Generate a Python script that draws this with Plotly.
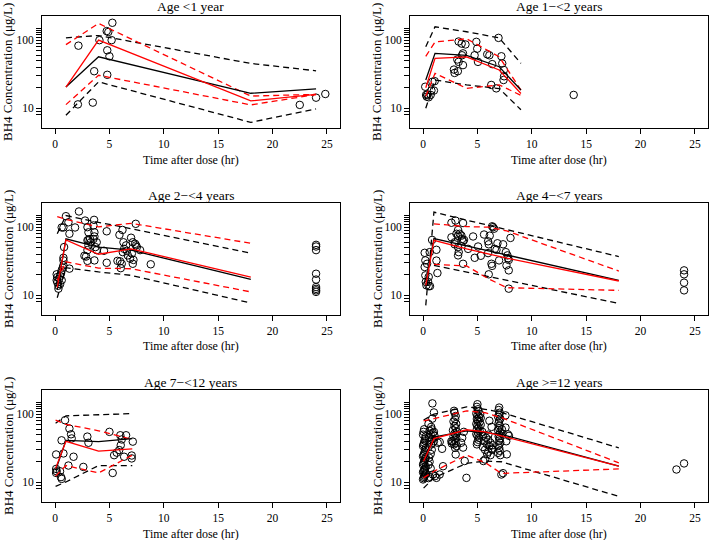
import plotly.graph_objects as go

FONT = "Liberation Serif"

TITLES = ["Age <1 year", "Age 1\u2212<2 years", "Age 2\u2212<4 years",
          "Age 4\u2212<7 years", "Age 7\u2212<12 years", "Age >=12 years"]
X_TITLE = "Time after dose (hr)"
Y_TITLE = "BH4 Concentration (\u03bcg/L)"
X_TICKS = [0, 5, 10, 15, 20, 25]
Y_TICKS = [10, 100]
Y_MINOR = [8, 9, 20, 30, 40, 50, 60, 70, 80, 90, 110, 120, 130, 140, 150]

# ---------------- Panel 1: Age <1 year ----------------
P1_OBS_T = [2.15, 4.08, 4.75, 4.9, 5.27, 5.2, 4.8, 5.0, 3.6, 4.8, 3.47, 2.1, 22.5, 24.0, 24.85]
P1_OBS_C = [83, 100, 136, 132, 180, 100, 71, 58, 35, 31, 12.1, 11.4, 11.2, 14.3, 16.2]
P1_T = [1, 4, 18, 24]
P1_OBS_P50 = [20.5, 57, 16.6, 19.2]
P1_OBS_P95 = [108, 117, 45.5, 35.5]
P1_OBS_P05 = [7.9, 24.4, 6.2, 9.8]
P1_SIM_P50 = [20.5, 100, 12.8, 16.0]
P1_SIM_P95 = [86, 176, 15.1, 16.0]
P1_SIM_P05 = [11.3, 30.5, 11.2, 15.9]

# ---------------- Panel 2: Age 1-<2 years ----------------
P2_OBS_T = [0.2, 0.28, 0.34, 0.4, 0.52, 0.7, 0.77, 0.86, 1.0, 1.07, 3.27, 3.55, 3.9, 3.58, 3.67,
            3.15, 3.27, 3.67, 2.84, 2.9, 3.2, 4.9, 4.98, 4.74, 5.05, 5.9, 6.1, 6.36, 6.94, 7.2,
            7.28, 7.43, 7.4, 7.45, 6.27, 6.73, 13.85]
P2_OBS_C = [20.7, 15.7, 14.8, 16, 14.5, 15.7, 18.2, 24.5, 18.2, 25, 95.6, 89, 86.5, 60, 64,
            52, 48, 43, 37, 33, 35, 94.5, 75, 60, 48, 62, 60, 44.5, 108, 58,
            45.5, 36.5, 26, 29.5, 22, 19.6, 15.7]
P2_T = [0.25, 1.1, 4, 7, 9]
P2_OBS_P50 = [26, 64, 60, 40.7, 18.5]
P2_OBS_P95 = [80, 157, 133, 108, 45.6]
P2_OBS_P05 = [10, 26, 22, 19.5, 9.5]
P2_SIM_P50 = [20, 54, 57, 36.5, 16.5]
P2_SIM_P95 = [58, 94, 105, 57, 18.5]
P2_SIM_P05 = [15, 32.6, 19.6, 22, 15.5]

# ---------------- Panel 3: Age 2-<4 years ----------------
P3_OBS_T = [0.21, 0.15, 0.21, 0.31, 0.31, 0.15, 0.37, 0.46, 0.55, 0.61, 0.71, 0.77, 0.61, 0.46,
            0.77, 0.77, 0.61, 0.77, 0.83, 1.0, 1.23, 1.32, 1.84, 2.2, 1.32, 2.76, 3.59, 2.98,
            3.53, 3.62, 3.07, 3.07, 3.22, 2.98, 3.28, 3.53, 3.62, 3.83, 3.71, 2.85, 2.98, 3.62,
            2.98, 3.83, 3.07, 4.75, 4.5, 4.75, 5.92, 6.2, 6.29, 6.35, 6.23, 5.74, 5.98, 6.04,
            6.13, 6.53, 6.6, 6.69, 6.9, 6.99, 7.15, 7.15, 7.21, 7.36, 7.45, 7.52, 7.42, 7.82,
            8.8, 7.06, 2.7,
            24, 24, 24, 24, 24, 24, 24, 24, 24]
P3_OBS_C = [18.5, 16.6, 15.5, 13.8, 12.5, 20.3, 17.5, 19.2, 21.2, 23.2, 25.4, 27.5, 16.6, 14.5,
            35.5, 32.5, 99, 99, 51, 145, 118, 80, 99, 170, 24.6, 125, 128, 100,
            106, 84, 84, 65, 67, 64, 60, 67, 73, 60, 51, 37, 32, 32.5,
            46, 46, 54, 87, 45, 30, 77, 91, 60, 48, 43, 32, 31.5, 25,
            29, 54, 45, 38.5, 34.5, 70, 60, 29, 33, 57, 54, 51, 112, 46,
            28.5, 41, 38,
            55, 52, 46, 20.7, 17, 13.2, 12.4, 11.8, 11.2]
P3_T = [0.2, 1, 4, 7, 18]
P3_OBS_P50 = [12, 67.6, 51, 46, 17.1]
P3_OBS_P95 = [80, 148, 118, 95, 41.6]
P3_OBS_P05 = [9.2, 25.4, 22, 19.6, 7.7]
P3_SIM_P50 = [13, 65, 40, 48, 18.5]
P3_SIM_P95 = [143, 130, 101, 114, 58]
P3_SIM_P05 = [16.6, 31, 25, 24.5, 11.2]

# ---------------- Panel 4: Age 4-<7 years ----------------
P4_OBS_T = [0.15, 0.21, 0.15, 0.21, 0.25, 0.31, 0.46, 0.52, 0.64, 0.61, 0.37, 0.52, 0.83, 1.23,
            1.23, 1.32, 2.61, 2.98, 2.61, 3.07, 3.22, 3.22, 3.37, 3.53, 3.68, 3.59, 3.68, 3.77,
            2.91, 2.91, 3.22, 3.28, 3.22, 3.68, 4.14, 4.6, 4.75, 5.06, 5.31, 5.61, 5.98, 6.04,
            5.98, 6.04, 6.13, 6.35, 6.44, 6.53, 6.29, 6.35, 6.6, 6.75, 6.84, 6.99, 7.36, 7.61,
            7.76, 7.67, 7.82, 7.88, 7.88, 7.88, 8.04,
            24, 24, 24, 24]
P4_OBS_C = [42, 32.5, 26, 19.6, 15.7, 14, 15.7, 13.6, 13.6, 43, 29, 18.6, 65, 46.5,
            32.3, 21.2, 116, 125, 71, 80, 91, 75, 80, 75, 115, 67, 62, 65,
            56, 60, 51, 43, 38.5, 29, 48, 73, 35.5, 52, 38, 78, 62, 56,
            41.6, 20.3, 75, 103, 100, 95, 29, 27, 48, 46.5, 58, 32.5, 56, 43,
            38.5, 27.5, 35, 23.2, 33, 12.5, 69.5,
            23.2, 20.3, 15.3, 11.8]
P4_T = [0.25, 1, 4, 6, 7.7, 18]
P4_OBS_P50 = [15.7, 68, 53, 45, 39, 16.6]
P4_OBS_P95 = [7.1, 166, 127, 107, 92, 37]
P4_OBS_P05 = [None, 27.5, 21.9, 19, 16.6, 7.6]
P4_SIM_P50 = [14, 64, 48, 41, 35, 16.2]
P4_SIM_P95 = [None, 112, 102, 100, 88, 22.7]
P4_SIM_P05 = [None, 28.4, 27, 17.5, 12.9, 11.8]

# ---------------- Panel 5: Age 7-<12 years ----------------
P5_OBS_T = [0.1, 0.1, 0.15, 0.1, 0.46, 0.55, 0.61, 0.6, 0.77, 0.92, 1.23, 1.32, 1.47, 1.53,
            1.7, 2.6, 2.97, 3.07, 5.0, 5.3, 5.43, 5.67, 5.9, 6.04, 6.0, 6.13, 6.35, 6.53,
            7.05, 7.05, 7.15]
P5_OBS_C = [25.6, 15.7, 14.5, 13.7, 14.5, 11.9, 11.2, 41.3, 26.5, 81.5, 17.6, 61.4, 50.6, 44,
            23.7, 16.8, 46.8, 38, 55, 13.7, 25, 27.2, 29.7, 35, 49, 42.5, 23.7, 49,
            24.7, 22.4, 39.5]
P5_T = [0.05, 1, 4, 7.1]
P5_OBS_P50 = [15, 41.3, 39.5, 43.6]
P5_OBS_P95 = [73.6, 94.5, 98, 102]
P5_OBS_P05 = [8.7, 10.1, 17.6, 17.6]
P5_SIM_P50 = [16, 40, 28.7, 31]
P5_SIM_P95 = [81.5, 71, 57, 42.5]
P5_SIM_P05 = [12.3, 17.6, 13.7, 25]

# ---------------- Panel 6: Age >=12 years ----------------
P6_OBS_T = [0.0, 0.05, 0.1, 0.15, 0.2, 0.25, 0.0, 0.05, 0.1, 0.15, 0.2, 0.25, 0.0, 0.05, 0.1,
            0.15, 0.2, 0.25, 0.0, 0.05, 0.1, 0.15, 0.2, 0.25, 0.0, 0.05, 0.1, 0.15, 0.2, 0.25,
            0.0, 0.05, 0.1,
            0.5, 0.6, 0.9, 0.7, 0.5, 0.6, 0.55, 0.7, 0.8, 0.5, 0.75, 0.6, 0.85, 0.55, 0.7, 0.9,
            0.6, 0.8, 0.75, 0.5, 0.85, 1.0, 0.86, 1.0, 1.05, 1.0,
            1.53, 1.75, 1.84, 1.23, 1.53, 1.35, 1.1,
            2.85, 2.9, 3.0, 2.95, 2.8, 3.05, 2.9, 3.0, 2.75, 3.1, 2.9, 3.0, 2.8, 3.05, 2.9,
            2.7, 3.0, 2.85, 3.1, 2.95, 3.0, 2.6, 2.65,
            3.68, 3.83, 3.99, 3.6, 3.5, 3.75,
            5.0, 4.95, 5.05, 5.1, 4.9, 5.0, 5.15, 4.95, 5.05, 5.2, 4.9, 5.0, 5.1, 4.95, 5.2,
            5.05, 4.9, 5.0, 5.15, 5.1, 5.0, 4.95, 5.25, 5.3, 5.3,
            5.5, 5.8, 6.0, 5.6, 6.2, 5.9, 6.1, 5.5, 6.3, 5.7, 6.0, 5.9, 6.2, 5.7, 5.55, 6.1,
            6.3, 5.45, 6.4, 6.35, 6.0,
            7.0, 6.95, 7.05, 7.0, 6.9, 7.1, 7.0, 6.95, 7.05, 7.0, 6.9, 7.1, 7.0, 6.95, 7.05,
            7.0, 7.1, 6.95, 7.0, 7.05, 6.9, 7.1, 7.2, 7.35, 7.25, 7.3,
            7.58, 7.65, 7.7, 7.8, 7.58, 7.9,
            23.3, 24.0]
P6_OBS_C = [11, 11.5, 12, 12.5, 13, 13.5, 14, 14.5, 15, 15.5, 16, 17, 18, 19, 20,
            21, 22, 23, 24, 25, 26, 28, 30, 32, 34, 36, 38, 41, 44, 47,
            50, 55, 60,
            11.5, 12, 13, 16, 18, 20, 23, 26, 30, 33, 36, 40, 43, 46, 50, 53,
            57, 60, 65, 72, 86, 106, 144, 55, 48, 40,
            39, 31, 17.2, 11.6, 13, 38, 12.3,
            112, 105, 94, 84, 78, 72, 67, 62, 58, 55, 52, 50, 47, 45, 42,
            40, 38, 36, 34, 32, 25.6, 40, 37,
            32.3, 20.5, 11.6, 45, 38, 55,
            140, 128, 118, 110, 102, 96, 90, 85, 80, 76, 72, 68, 64, 60, 57,
            54, 51, 48, 45, 42, 39, 36, 100, 88, 70,
            48, 45, 42, 40, 38, 36, 34, 33, 31, 30, 28, 26, 25, 21.6, 20.5, 80,
            65, 55, 35, 30, 50,
            125, 115, 105, 98, 92, 86, 80, 74, 68, 62, 58, 54, 50, 47, 44,
            41, 38, 35, 32, 29, 27, 25, 13, 13.6, 60, 52,
            63.5, 40, 25.7, 50.6, 96, 48,
            15.4, 18.9]
P6_T = [0.05, 1, 4, 5.7, 7.2, 18]
P6_OBS_P50 = [20.4, 46, 57, 54, 50.5, 17.2]
P6_OBS_P95 = [82, 100, 128, 118, 106, 32]
P6_OBS_P05 = [8.2, 11.6, 19, 20.4, 20, 6.2]
P6_SIM_P50 = [20.4, 43.7, 59, 55, 48, 17.2]
P6_SIM_P95 = [80, 86, 112, 105, 89, 19.3]
P6_SIM_P05 = [11.6, 14.5, 25, 19.5, 13.5, 15.7]

PANELS = [
    (P1_OBS_T, P1_OBS_C, P1_T, P1_OBS_P50, P1_OBS_P95, P1_OBS_P05, P1_SIM_P50, P1_SIM_P95, P1_SIM_P05),
    (P2_OBS_T, P2_OBS_C, P2_T, P2_OBS_P50, P2_OBS_P95, P2_OBS_P05, P2_SIM_P50, P2_SIM_P95, P2_SIM_P05),
    (P3_OBS_T, P3_OBS_C, P3_T, P3_OBS_P50, P3_OBS_P95, P3_OBS_P05, P3_SIM_P50, P3_SIM_P95, P3_SIM_P05),
    (P4_OBS_T, P4_OBS_C, P4_T, P4_OBS_P50, P4_OBS_P95, P4_OBS_P05, P4_SIM_P50, P4_SIM_P95, P4_SIM_P05),
    (P5_OBS_T, P5_OBS_C, P5_T, P5_OBS_P50, P5_OBS_P95, P5_OBS_P05, P5_SIM_P50, P5_SIM_P95, P5_SIM_P05),
    (P6_OBS_T, P6_OBS_C, P6_T, P6_OBS_P50, P6_OBS_P95, P6_OBS_P05, P6_SIM_P50, P6_SIM_P95, P6_SIM_P05),
]

W, H = 710, 540
COL_PX = [(42, 340), (410, 708)]
ROW_PX = [(16, 128), (203, 315), (390, 502)]
TITLE_Y = [7, 195, 382]
XLAB_Y = [160, 346, 534]
YLAB_X = [8, 377]

DASH = "6px,4px"
RED = "#FF0000"

fig = go.Figure()
layout = dict(
    width=W, height=H, autosize=False,
    margin=dict(l=0, r=0, t=0, b=0),
    paper_bgcolor="white", plot_bgcolor="white",
    showlegend=False,
    font=dict(family=FONT, size=11, color="black"),
)
annotations = []

for i, (ot, oc, lt, op50, op95, op05, sp50, sp95, sp05) in enumerate(PANELS):
    r, c = divmod(i, 2)
    n = "" if i == 0 else str(i + 1)
    xa, ya = "x" + n, "y" + n
    x0, x1 = COL_PX[c]
    y0, y1 = ROW_PX[r]

    fig.add_trace(go.Scatter(x=ot, y=oc, mode="markers", xaxis=xa, yaxis=ya,
                             marker=dict(symbol="circle-open", size=7.5, color="black",
                                         line=dict(width=1, color="black")),
                             hoverinfo="skip"))
    for vals, col, dash in [(op95, "black", DASH), (op05, "black", DASH),
                            (sp95, RED, DASH), (sp05, RED, DASH),
                            (op50, "black", "solid"), (sp50, RED, "solid")]:
        fig.add_trace(go.Scatter(x=lt, y=vals, mode="lines", xaxis=xa, yaxis=ya,
                                 line=dict(color=col, width=1.3, dash=dash),
                                 hoverinfo="skip"))

    layout["xaxis" + n] = dict(
        domain=[x0 / W, x1 / W], anchor=ya, range=[-1.2, 26.2],
        tickvals=X_TICKS, ticks="outside", ticklen=5, tickwidth=1, tickcolor="black",
        showline=True, linecolor="black", linewidth=1, mirror=True,
        showgrid=False, zeroline=False,
        tickfont=dict(family=FONT, size=11.5, color="black"),
    )
    layout["yaxis" + n] = dict(
        domain=[1 - y1 / H, 1 - y0 / H], anchor=xa, type="log", range=[0.71, 2.355],
        tickvals=Y_TICKS, ticktext=[str(v) for v in Y_TICKS],
        ticks="outside", ticklen=5, tickwidth=1, tickcolor="black",
        minor=dict(tickvals=Y_MINOR, ticks="outside", ticklen=5, tickwidth=1,
                   tickcolor="black", showgrid=False),
        showline=True, linecolor="black", linewidth=1, mirror=True,
        showgrid=False, zeroline=False,
        tickfont=dict(family=FONT, size=11.5, color="black"),
    )
    xc = (x0 + x1) / 2 / W
    annotations.append(dict(text=TITLES[i], x=xc, y=1 - TITLE_Y[r] / H, xref="paper", yref="paper",
                            showarrow=False, xanchor="center", yanchor="middle",
                            font=dict(family=FONT, size=13.5, color="black")))
    annotations.append(dict(text=X_TITLE, x=xc, y=1 - XLAB_Y[r] / H, xref="paper", yref="paper",
                            showarrow=False, xanchor="center", yanchor="middle",
                            font=dict(family=FONT, size=12, color="black")))
    annotations.append(dict(text=Y_TITLE, x=YLAB_X[c] / W, y=1 - (y0 + y1) / 2 / H,
                            xref="paper", yref="paper", textangle=-90,
                            showarrow=False, xanchor="center", yanchor="middle",
                            font=dict(family=FONT, size=13, color="black")))

layout["annotations"] = annotations
fig.update_layout(**layout)
fig.write_html("out.html", config={"displayModeBar": False},
               post_script="document.body.style.margin='0';document.body.style.overflow='hidden';")
